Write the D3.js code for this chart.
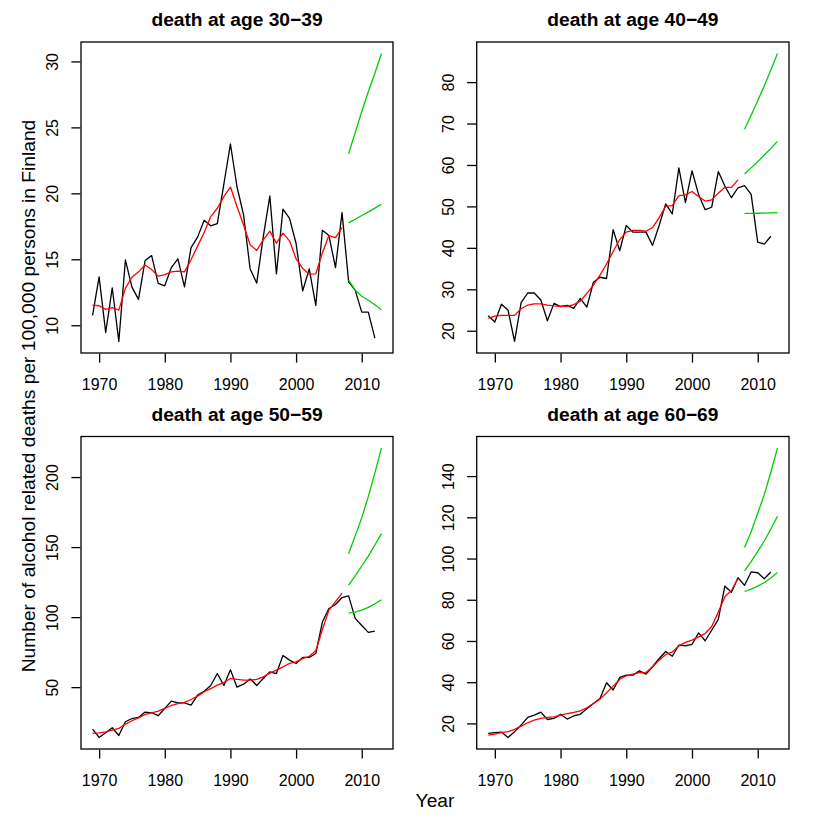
<!DOCTYPE html>
<html><head><meta charset="utf-8">
<script src="https://cdn.jsdelivr.net/npm/d3@7"></script>
<style>body{margin:0;background:#fff}svg{display:block}</style>
</head><body><svg id="c" width="830" height="830"></svg>
<script>
// ---------- data ----------
const obsYears = [1969,1970,1971,1972,1973,1974,1975,1976,1977,1978,1979,1980,1981,1982,1983,1984,1985,1986,1987,1988,1989,1990,1991,1992,1993,1994,1995,1996,1997,1998,1999,2000,2001,2002,2003,2004,2005,2006,2007,2008,2009,2010,2011,2012];
const smoothYears = [1969,1970,1971,1972,1973,1974,1975,1976,1977,1978,1979,1980,1981,1982,1983,1984,1985,1986,1987,1988,1989,1990,1991,1992,1993,1994,1995,1996,1997,1998,1999,2000,2001,2002,2003,2004,2005,2006,2007];
const forecastYears = [2008,2009,2010,2011,2012,2013];
const xTicks = [1970,1980,1990,2000,2010];

const titles = ["death at age 30\u221239","death at age 40\u221249","death at age 50\u221259","death at age 60\u221269"];

const obs30 = [10.75,13.67,9.45,12.84,8.77,14.95,12.89,11.96,14.9,15.28,13.17,12.99,14.37,15.03,12.91,15.88,16.68,17.96,17.54,17.71,20.7,23.74,20.5,18.37,14.27,13.2,16.7,19.8,13.9,18.8,18.1,16.2,12.6,14.27,11.5,17.2,16.8,14.37,18.54,13.3,12.66,11.0,11.0,9.02];
const smooth30 = [11.53,11.48,11.2,11.33,11.15,12.8,13.64,14.05,14.57,14.22,13.72,13.84,14.05,14.1,14.05,14.97,16.0,17.03,18.24,18.87,19.75,20.48,19.0,17.6,16.1,15.68,16.48,17.14,16.23,16.98,16.4,15.03,14.32,13.87,13.9,15.48,16.8,16.65,17.4];
const upper30 = [23.0,24.6,26.2,27.7,29.1,30.6];
const mid30 = [17.76,18.04,18.32,18.6,18.88,19.17];
const lower30 = [13.42,12.66,12.2,11.9,11.55,11.18];
const yTicks30 = [10,15,20,25,30];

const obs40 = [23.6,22.1,26.4,25.0,17.4,26.8,29.1,29.1,27.4,22.4,26.6,25.8,26.1,25.4,27.8,25.7,31.7,32.9,32.6,44.4,39.3,45.4,43.8,43.8,43.8,40.6,45.4,50.6,48.2,59.3,50.9,58.6,52.9,49.2,49.8,58.4,54.9,52.1,54.5,55.0,52.9,41.4,40.9,42.8];
const smooth40 = [23.0,23.5,23.7,23.7,23.7,25.3,26.2,26.5,26.5,26.2,26.0,25.9,25.9,26.3,27.1,29.0,31.0,33.4,36.1,39.1,42.0,43.8,44.2,44.2,44.0,44.9,47.3,50.0,50.2,52.6,52.8,53.6,52.4,51.3,51.6,53.2,54.6,54.6,56.4];
const upper40 = [68.6,72.0,75.5,79.1,82.9,86.9];
const mid40 = [57.8,59.3,60.8,62.4,64.0,65.7];
const lower40 = [48.3,48.3,48.35,48.4,48.45,48.5];
const yTicks40 = [20,30,40,50,60,70,80];

const obs50 = [20.0,14.1,17.4,21.0,15.5,25.3,27.6,28.4,32.2,31.7,29.6,34.8,40.0,38.8,38.8,37.2,44.3,47.1,51.2,59.7,51.2,62.4,50.0,52.1,55.9,51.2,56.2,60.9,59.7,72.6,69.3,66.9,71.2,71.2,74.0,96.5,106.2,109.0,114.0,115.2,99.1,94.0,89.1,90.0];
const smooth50 = [17.0,17.4,18.1,19.3,20.5,23.6,26.0,28.1,30.5,31.7,32.9,34.8,36.9,38.3,39.1,41.2,43.6,46.7,49.0,51.4,53.3,56.2,55.5,55.0,55.0,55.5,57.4,60.0,62.1,64.5,66.9,68.1,70.4,72.0,76.0,91.0,105.0,111.0,117.0];
const upper50 = [145.3,158.0,171.0,186.0,203.0,220.7];
const mid50 = [122.8,129.5,136.5,143.5,151.5,159.6];
const lower50 = [102.8,103.5,105.0,107.0,109.5,112.3];
const yTicks50 = [50,100,150,200];

const obs60 = [15.2,15.5,15.8,13.2,16.0,19.2,22.9,24.0,25.5,21.9,22.4,24.4,22.1,23.6,24.4,27.1,29.7,32.1,39.7,36.2,42.3,43.4,43.4,45.5,43.9,47.5,51.5,54.9,52.6,58.0,57.6,58.3,63.9,60.1,65.2,70.5,86.6,83.6,90.7,87.0,93.5,93.1,90.2,93.5];
const smooth60 = [14.3,14.8,15.5,16.0,17.1,18.7,20.3,21.6,22.4,22.9,23.2,24.0,24.7,25.3,26.1,27.6,29.7,31.8,34.9,38.1,41.3,43.1,43.9,44.6,44.7,47.5,50.7,53.4,54.7,57.6,59.3,60.4,62.0,63.6,67.0,74.0,81.5,84.5,90.3];
const upper60 = [105.3,113.0,122.0,131.0,142.0,153.6];
const mid60 = [94.0,98.5,103.5,108.5,114.3,120.5];
const lower60 = [84.0,85.2,86.6,88.4,90.6,93.2];
const yTicks60 = [20,40,60,80,100,120,140];

const yLabel = "Number of alcohol related deaths per 100,000 persons in Finland";
const xLabel = "Year";

// ---------- drawing ----------
const FONT = "'Liberation Sans', Arial, Helvetica, sans-serif";
const svg = d3.select("#c");
const LW = 1.3;

const panels = [
  {title: titles[0], obs: obs30, smooth: smooth30, fc: [upper30, mid30, lower30], yt: yTicks30, box: [81, 393, 42, 353]},
  {title: titles[1], obs: obs40, smooth: smooth40, fc: [upper40, mid40, lower40], yt: yTicks40, box: [476.7, 789, 42, 353]},
  {title: titles[2], obs: obs50, smooth: smooth50, fc: [upper50, mid50, lower50], yt: yTicks50, box: [81, 393, 436.5, 749]},
  {title: titles[3], obs: obs60, smooth: smooth60, fc: [upper60, mid60, lower60], yt: yTicks60, box: [476.7, 789, 436.5, 749]}
];

function padExt(ext) { const d = (ext[1] - ext[0]) * 0.04; return [ext[0] - d, ext[1] + d]; }

const allYears = obsYears.concat(forecastYears);

panels.forEach(p => {
  const [x0, x1, y0, y1] = p.box;
  const x = d3.scaleLinear().domain(padExt(d3.extent(allYears))).range([x0, x1]);
  const allVals = p.obs.concat(p.smooth, ...p.fc);
  const y = d3.scaleLinear().domain(padExt(d3.extent(allVals))).range([y1, y0]);
  const g = svg.append("g");

  // x axis
  const xa = g.append("g").attr("transform", `translate(0,${y1})`)
    .call(d3.axisBottom(x).tickValues(xTicks).tickFormat(d3.format("d")).tickSize(9.6).tickPadding(0));
  xa.select(".domain").remove();
  xa.selectAll("line").attr("stroke", "#000").attr("stroke-width", LW).attr("y1", 0.6);
  xa.selectAll("text").attr("font-family", FONT).attr("font-size", 16).attr("fill", "#000")
    .attr("dy", null).attr("y", 36.5);

  // y axis
  const ya = g.append("g").attr("transform", `translate(${x0},0)`)
    .call(d3.axisLeft(y).tickValues(p.yt).tickSize(9.6).tickPadding(0));
  ya.select(".domain").remove();
  ya.selectAll("line").attr("stroke", "#000").attr("stroke-width", LW).attr("x1", -0.6);
  ya.selectAll("text").attr("font-family", FONT).attr("font-size", 16).attr("fill", "#000")
    .attr("x", null).attr("dy", null).attr("text-anchor", "middle")
    .attr("transform", "translate(-23,0) rotate(-90)");

  // lines
  const line = d3.line().x(d => x(d[0])).y(d => y(d[1]));
  g.append("path").datum(obsYears.map((yr, i) => [yr, p.obs[i]]))
    .attr("d", line).attr("fill", "none").attr("stroke", "#000").attr("stroke-width", LW).attr("stroke-linejoin", "round");
  g.append("path").datum(smoothYears.map((yr, i) => [yr, p.smooth[i]]))
    .attr("d", line).attr("fill", "none").attr("stroke", "#ff0000").attr("stroke-width", LW).attr("stroke-linejoin", "round");
  p.fc.forEach(s => {
    g.append("path").datum(forecastYears.map((yr, i) => [yr, s[i]]))
      .attr("d", line).attr("fill", "none").attr("stroke", "#00cd00").attr("stroke-width", LW).attr("stroke-linejoin", "round");
  });

  // box
  g.append("rect").attr("x", x0).attr("y", y0).attr("width", x1 - x0).attr("height", y1 - y0)
    .attr("fill", "none").attr("stroke", "#000").attr("stroke-width", LW);

  // title
  g.append("text").attr("x", (x0 + x1) / 2).attr("y", y0 - 16).attr("text-anchor", "middle")
    .attr("font-family", FONT).attr("font-weight", "bold").attr("font-size", 19.2).attr("fill", "#000")
    .text(p.title);
});

svg.append("text").attr("x", 435).attr("y", 806.5).attr("text-anchor", "middle")
  .attr("font-family", FONT).attr("font-size", 19.2).attr("fill", "#000").text(xLabel);
svg.append("text").attr("transform", "translate(35,396) rotate(-90)").attr("text-anchor", "middle")
  .attr("font-family", FONT).attr("font-size", 19.2).attr("fill", "#000").text(yLabel);
</script></body></html>
